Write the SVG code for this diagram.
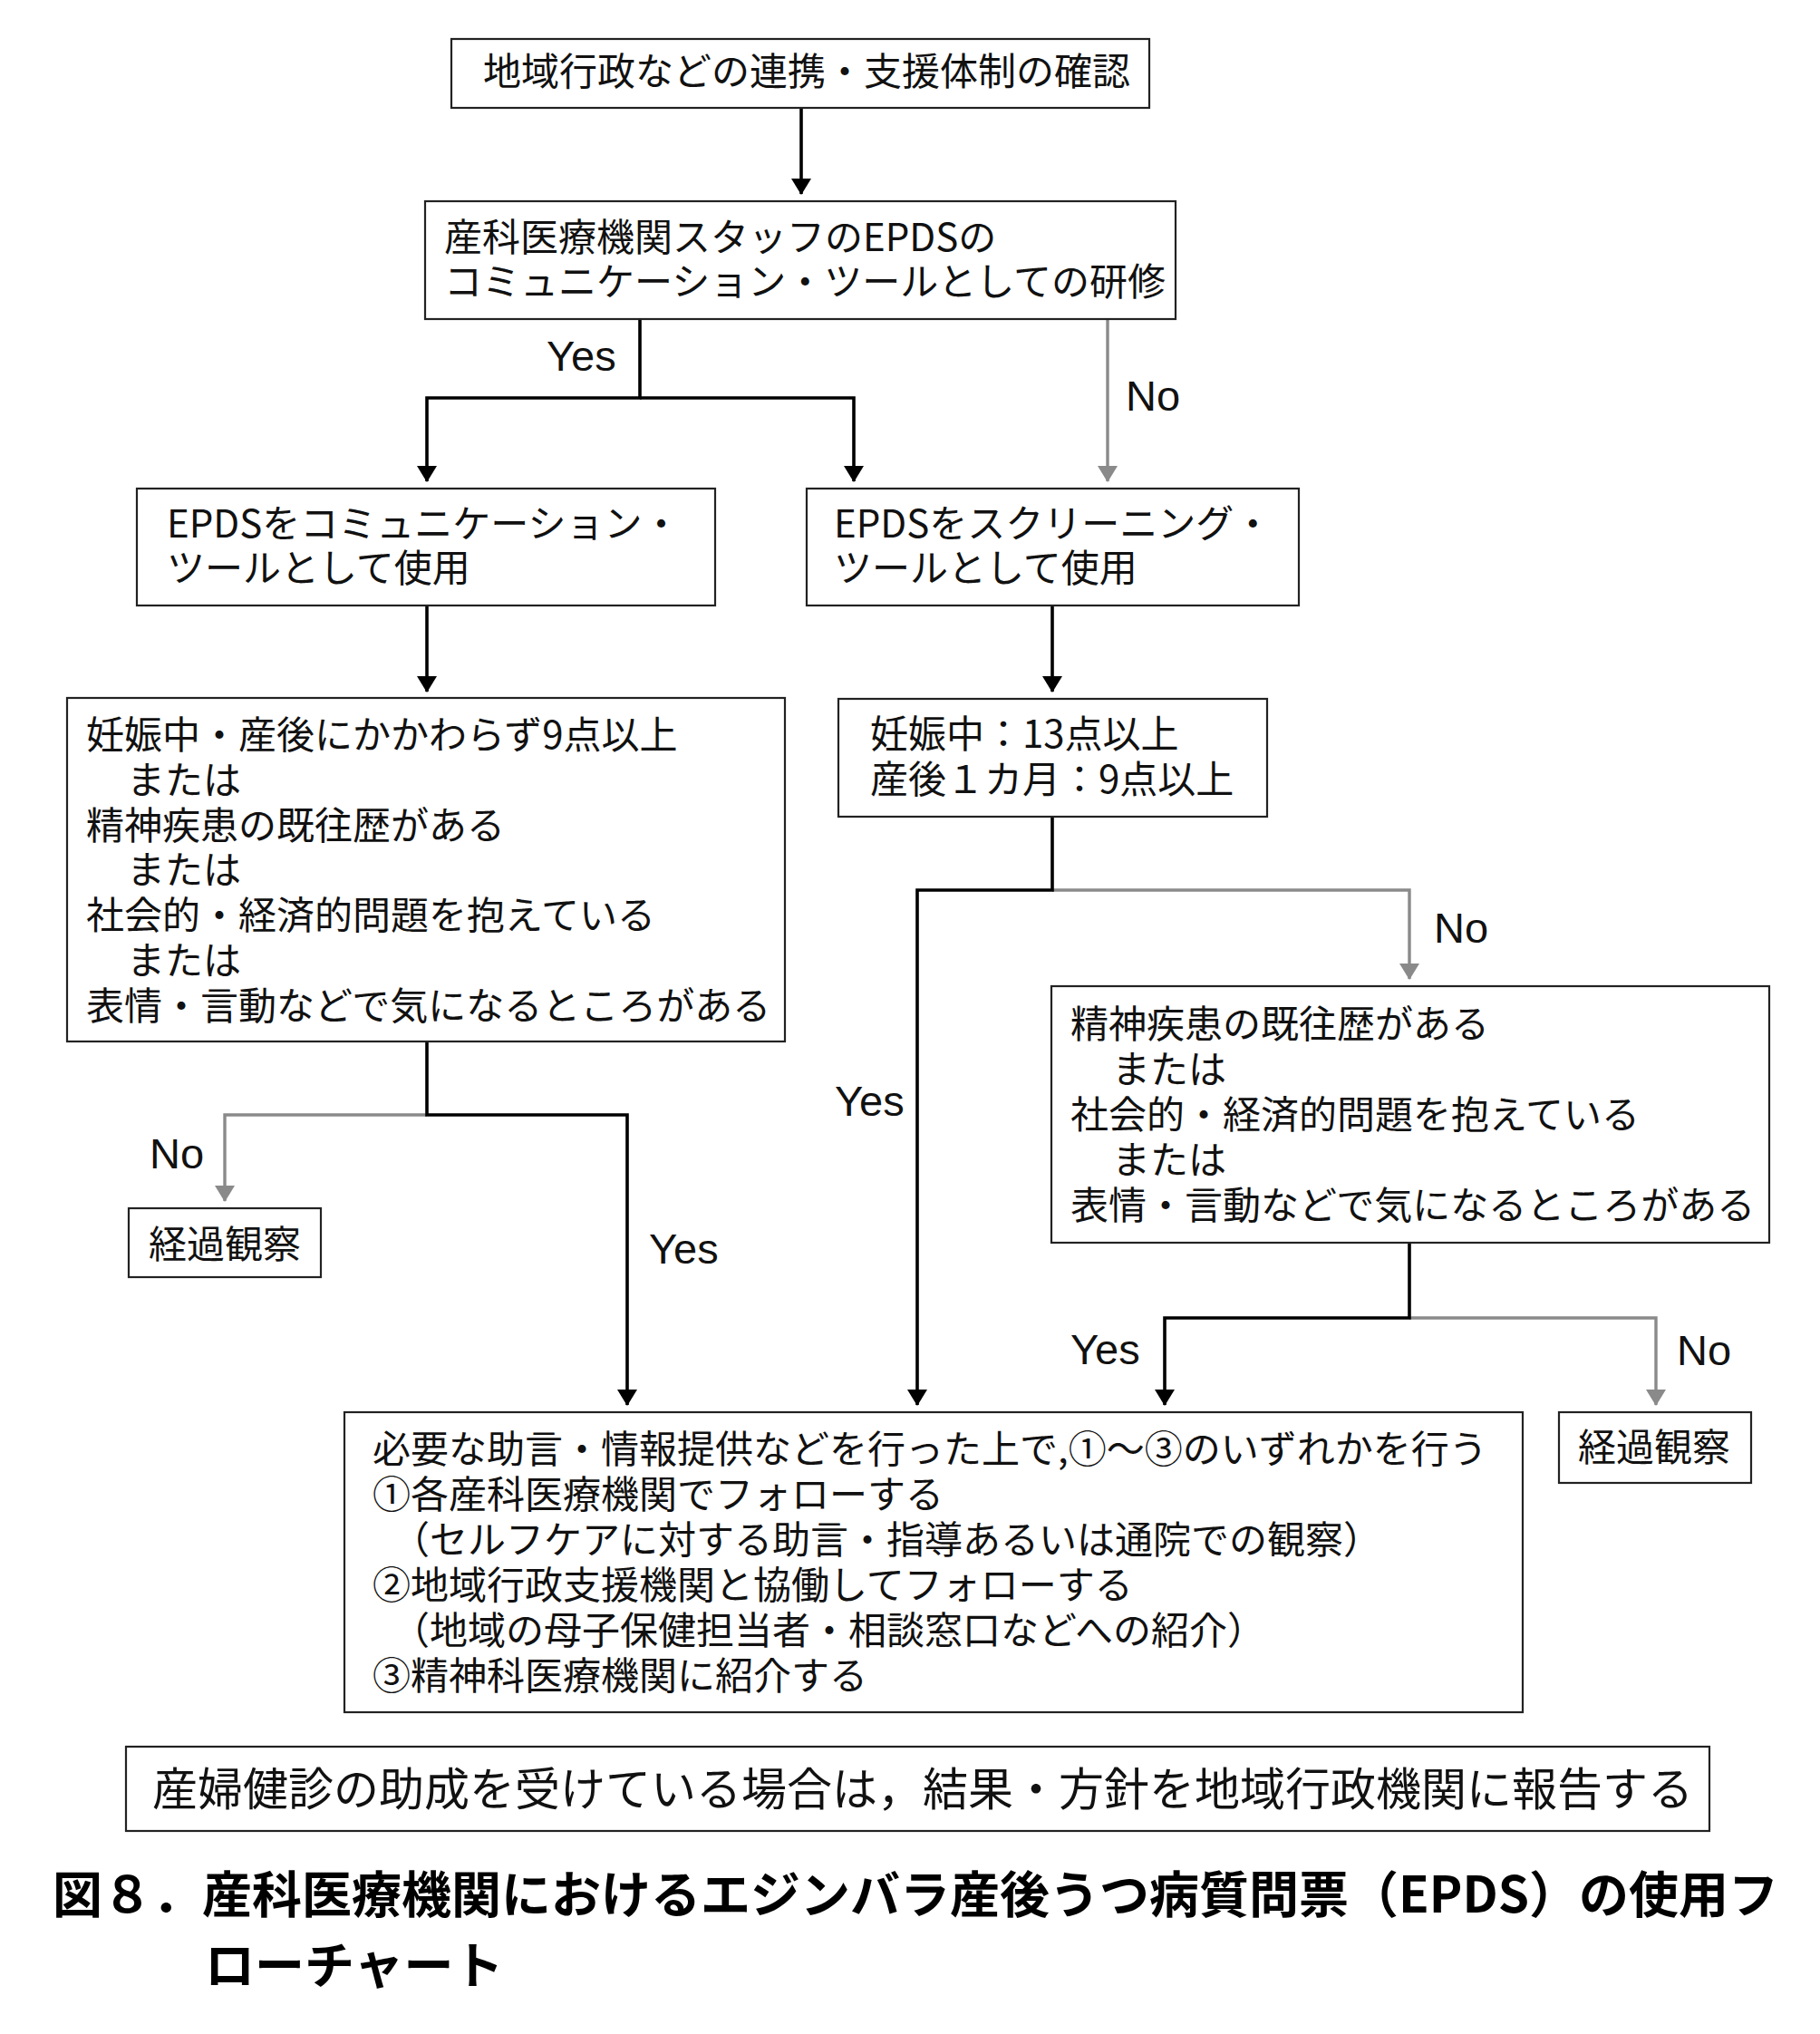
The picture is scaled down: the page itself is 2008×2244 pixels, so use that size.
<svg xmlns="http://www.w3.org/2000/svg" width="2008" height="2244" viewBox="0 0 2008 2244">
<style>
.box{fill:#fff;stroke:#222;stroke-width:2.2}
.t{font-family:'Noto Sans CJK JP','Noto Sans CJK SC',sans-serif;font-size:42px;fill:#111}
.lbl{font-family:'Liberation Sans',Arial,sans-serif;font-size:47px;fill:#111}
.note{font-family:'Noto Sans CJK JP','Noto Sans CJK SC',sans-serif;font-size:50px;fill:#111}
.cap{font-family:'Noto Sans CJK JP','Noto Sans CJK SC',sans-serif;font-size:55px;font-weight:bold;fill:#000}
.k{fill:none;stroke:#000;stroke-width:3.6}
.g{fill:none;stroke:#8a8a8a;stroke-width:3.4}
</style>
<defs>
<marker id="ak" markerUnits="userSpaceOnUse" markerWidth="18" markerHeight="24" viewBox="0 -12 18 24" refX="17" refY="0" orient="auto"><path d="M0,-11 L18,0 L0,11 z" fill="#000"/></marker>
<marker id="ag" markerUnits="userSpaceOnUse" markerWidth="18" markerHeight="24" viewBox="0 -12 18 24" refX="17" refY="0" orient="auto"><path d="M0,-11 L18,0 L0,11 z" fill="#8a8a8a"/></marker>
</defs>
<rect width="2008" height="2244" fill="#fff"/>
<g id="connectors">
<path class="k" d="M884,119 V214" marker-end="url(#ak)"/>
<path class="g" d="M1222,352 V531" marker-end="url(#ag)"/>
<path class="k" d="M706,352 V439 H471 V531" marker-end="url(#ak)"/>
<path class="k" d="M706,439 H942 V531" marker-end="url(#ak)"/>
<path class="k" d="M471,668 V763" marker-end="url(#ak)"/>
<path class="k" d="M1161,668 V763" marker-end="url(#ak)"/>
<path class="g" d="M471,1230 H248 V1325" marker-end="url(#ag)"/>
<path class="k" d="M471,1149 V1230 H692 V1550" marker-end="url(#ak)"/>
<path class="g" d="M1161,982 H1555 V1080" marker-end="url(#ag)"/>
<path class="k" d="M1161,900 V982 H1012 V1550" marker-end="url(#ak)"/>
<path class="g" d="M1555,1454 H1827 V1550" marker-end="url(#ag)"/>
<path class="k" d="M1555,1371 V1454 H1285 V1550" marker-end="url(#ak)"/>
<text class="lbl" x="603" y="409">Yes</text>
<text class="lbl" x="1242" y="453">No</text>
<text class="lbl" x="1582" y="1040">No</text>
<text class="lbl" x="165" y="1289">No</text>
<text class="lbl" x="716" y="1394">Yes</text>
<text class="lbl" x="921" y="1231">Yes</text>
<text class="lbl" x="1181" y="1505">Yes</text>
<text class="lbl" x="1850" y="1506">No</text>
</g>
<g id="n1">
<rect class="box" x="498" y="43" width="770" height="76"/>
<text class="t" x="533" y="94">地域行政などの連携・支援体制の確認</text>
</g>
<g id="n2">
<rect class="box" x="469" y="222" width="828" height="130"/>
<text class="t"><tspan x="490" y="277">産科医療機関スタッフのEPDSの</tspan><tspan x="490" y="326">コミュニケーション・ツールとしての研修</tspan></text>
</g>
<g id="n3">
<rect class="box" x="151" y="539" width="638" height="129"/>
<text class="t"><tspan x="184" y="593">EPDSをコミュニケーション・</tspan><tspan x="184" y="642">ツールとして使用</tspan></text>
</g>
<g id="n4">
<rect class="box" x="890" y="539" width="543" height="129"/>
<text class="t"><tspan x="920" y="593">EPDSをスクリーニング・</tspan><tspan x="920" y="642">ツールとして使用</tspan></text>
</g>
<g id="n5">
<rect class="box" x="74" y="770" width="792" height="379"/>
<text class="t"><tspan x="95" y="826">妊娠中・産後にかかわらず9点以上</tspan><tspan x="140" y="876">または</tspan><tspan x="95" y="926">精神疾患の既往歴がある</tspan><tspan x="140" y="975">または</tspan><tspan x="95" y="1025">社会的・経済的問題を抱えている</tspan><tspan x="140" y="1075">または</tspan><tspan x="95" y="1125">表情・言動などで気になるところがある</tspan></text>
</g>
<g id="n6">
<rect class="box" x="925" y="771" width="473" height="130"/>
<text class="t"><tspan x="960" y="825">妊娠中：13点以上</tspan><tspan x="960" y="875">産後１カ月：9点以上</tspan></text>
</g>
<g id="n7">
<rect class="box" x="1160" y="1088" width="792" height="283"/>
<text class="t"><tspan x="1181" y="1145">精神疾患の既往歴がある</tspan><tspan x="1227" y="1195">または</tspan><tspan x="1181" y="1245">社会的・経済的問題を抱えている</tspan><tspan x="1227" y="1295">または</tspan><tspan x="1181" y="1345">表情・言動などで気になるところがある</tspan></text>
</g>
<g id="n8">
<rect class="box" x="142" y="1333" width="212" height="76"/>
<text class="t" x="164" y="1388">経過観察</text>
</g>
<g id="n9">
<rect class="box" x="380" y="1558" width="1300" height="331"/>
<text class="t"><tspan x="411" y="1614">必要な助言・情報提供などを行った上で,①～③のいずれかを行う</tspan><tspan x="411" y="1664">①各産科医療機関でフォローする</tspan><tspan x="432" y="1714">（セルフケアに対する助言・指導あるいは通院での観察）</tspan><tspan x="411" y="1764">②地域行政支援機関と協働してフォローする</tspan><tspan x="432" y="1814">（地域の母子保健担当者・相談窓口などへの紹介）</tspan><tspan x="411" y="1864">③精神科医療機関に紹介する</tspan></text>
</g>
<g id="n10">
<rect class="box" x="1720" y="1558" width="212" height="78"/>
<text class="t" x="1741" y="1612">経過観察</text>
</g>
<g id="n11">
<rect class="box" x="139" y="1927" width="1747" height="93"/>
<text class="note" x="168" y="1992">産婦健診の助成を受けている場合は，結果・方針を地域行政機関に報告する</text>
</g>
<g id="caption">
<text class="cap"><tspan x="58" y="2110">図８．産科医療機関におけるエジンバラ産後うつ病質問票（EPDS）の使用フ</tspan><tspan x="226" y="2188">ローチャート</tspan></text>
</g>
</svg>
